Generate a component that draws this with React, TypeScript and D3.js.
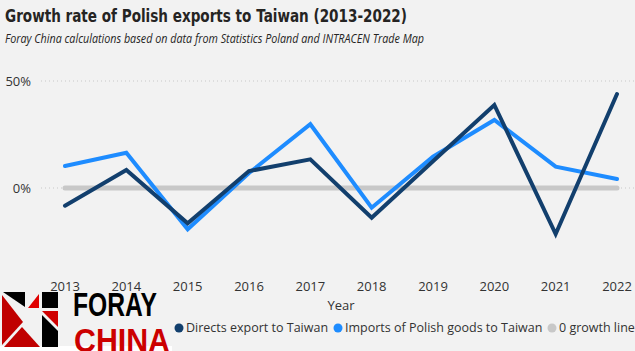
import React from "react";
import * as d3 from "d3";

const years = ["2013", "2014", "2015", "2016", "2017", "2018", "2019", "2020", "2021", "2022"];
const directExport = [-8.3, 8.4, -16.5, 7.9, 13.4, -13.9, 12.5, 38.8, -21.5, 43.9];
const polishImports = [10.3, 16.5, -19.3, 7.0, 29.8, -9.2, 14.6, 31.8, 10.0, 4.2];
const zeroLine = years.map(() => 0);
const yTicks = [0, 50];

const legendItems = [
  { label: "Directs export to Taiwan", color: "#123f6d", x: 179 },
  { label: "Imports of Polish goods to Taiwan", color: "#1e8cff", x: 338 },
  { label: "0 growth line", color: "#c8c8c8", x: 552 },
];

const W = 635;
const H = 351;
const FONT = "'Segoe UI', 'Open Sans', 'Liberation Sans', sans-serif";

export default function App() {
  const x = d3.scalePoint<string>().domain(years).range([65, 617]);
  const y = d3.scaleLinear().domain([0, 50]).range([188, 81]);

  const line = d3
    .line<number>()
    .x((_, i) => x(years[i]) as number)
    .y((d) => y(d));

  return (
    <svg
      width={W}
      height={H}
      style={{ position: "absolute", left: 0, top: 0, display: "block" }}
      fontFamily={FONT}
    >
      <rect width={W} height={H} fill="#f2f2f2" />

      {/* title */}
      <text x={5} y={22} fontSize={18.5} fontWeight="bold" fill="#252423" fontFamily="Tahoma, 'DejaVu Sans', sans-serif" textLength={402} lengthAdjust="spacingAndGlyphs">
        Growth rate of Polish exports to Taiwan (2013-2022)
      </text>
      <text x={5} y={43} fontSize={12.5} fontStyle="italic" fill="#252423" textLength={419} lengthAdjust="spacingAndGlyphs">
        Foray China calculations based on data from Statistics Poland and INTRACEN Trade Map
      </text>

      {/* gridlines + y labels */}
      {yTicks.map((t) => (
        <g key={t}>
          <line x1={41} x2={W} y1={y(t)} y2={y(t)} stroke="#c8c8c8" strokeDasharray="1,3" />
          <text x={31} y={y(t)} dy="0.35em" textAnchor="end" fontSize={13} fill="#333">
            {t}%
          </text>
        </g>
      ))}

      {/* zero growth line */}
      <path d={line(zeroLine) || ""} fill="none" stroke="#c8c8c8" strokeWidth={5} strokeLinecap="round" />
      <path d={line(polishImports) || ""} fill="none" stroke="#1e8cff" strokeWidth={4} strokeLinecap="round" />
      <path d={line(directExport) || ""} fill="none" stroke="#123f6d" strokeWidth={4} strokeLinecap="round" />

      {/* x axis */}
      {years.map((yr) => (
        <text key={yr} x={x(yr)} y={286} dy="0.35em" textAnchor="middle" fontSize={13} fill="#333">
          {yr}
        </text>
      ))}
      <text x={341} y={305} dy="0.35em" textAnchor="middle" fontSize={13} fill="#333">
        Year
      </text>

      {/* legend */}
      {legendItems.map((it) => (
        <g key={it.label}>
          <circle cx={it.x} cy={328} r={4.5} fill={it.color} />
          <text x={it.x + 7} y={328} dy="0.35em" fontSize={12.5} fill="#333">
            {it.label}
          </text>
        </g>
      ))}

      {/* logo */}
      <g>
        <rect x={0} y={291} width={172} height={60} fill="#f2f2f2" />
        <rect x={0} y={346} width={172} height={5} fill="#ffffff" />
        <polygon points="3,292 25,292 25,307" fill="#000" />
        <polygon points="2,295 2,345 23,322" fill="#c00000" />
        <polygon points="28,308 39,294 39,308" fill="#e00000" />
        <rect x={42} y={292} width={16} height={16} fill="#000" />
        <polygon points="42,311 58,311 58,327" fill="#d00000" />
        <polygon points="42,315 42,347 58,347 58,331" fill="#000" />
        <polygon points="4,347 40,347 22,327" fill="#c00000" />
        <text x={73} y={316} fontSize={33} fontWeight="bold" fill="#000" fontFamily="'Liberation Sans Narrow', 'Liberation Sans', sans-serif" textLength={84} lengthAdjust="spacingAndGlyphs">
          FORAY
        </text>
        <text x={74} y={352} fontSize={33} fontWeight="bold" fill="#cc0000" fontFamily="'Liberation Sans Narrow', 'Liberation Sans', sans-serif" textLength={96} lengthAdjust="spacingAndGlyphs">
          CHINA
        </text>
      </g>
    </svg>
  );
}
